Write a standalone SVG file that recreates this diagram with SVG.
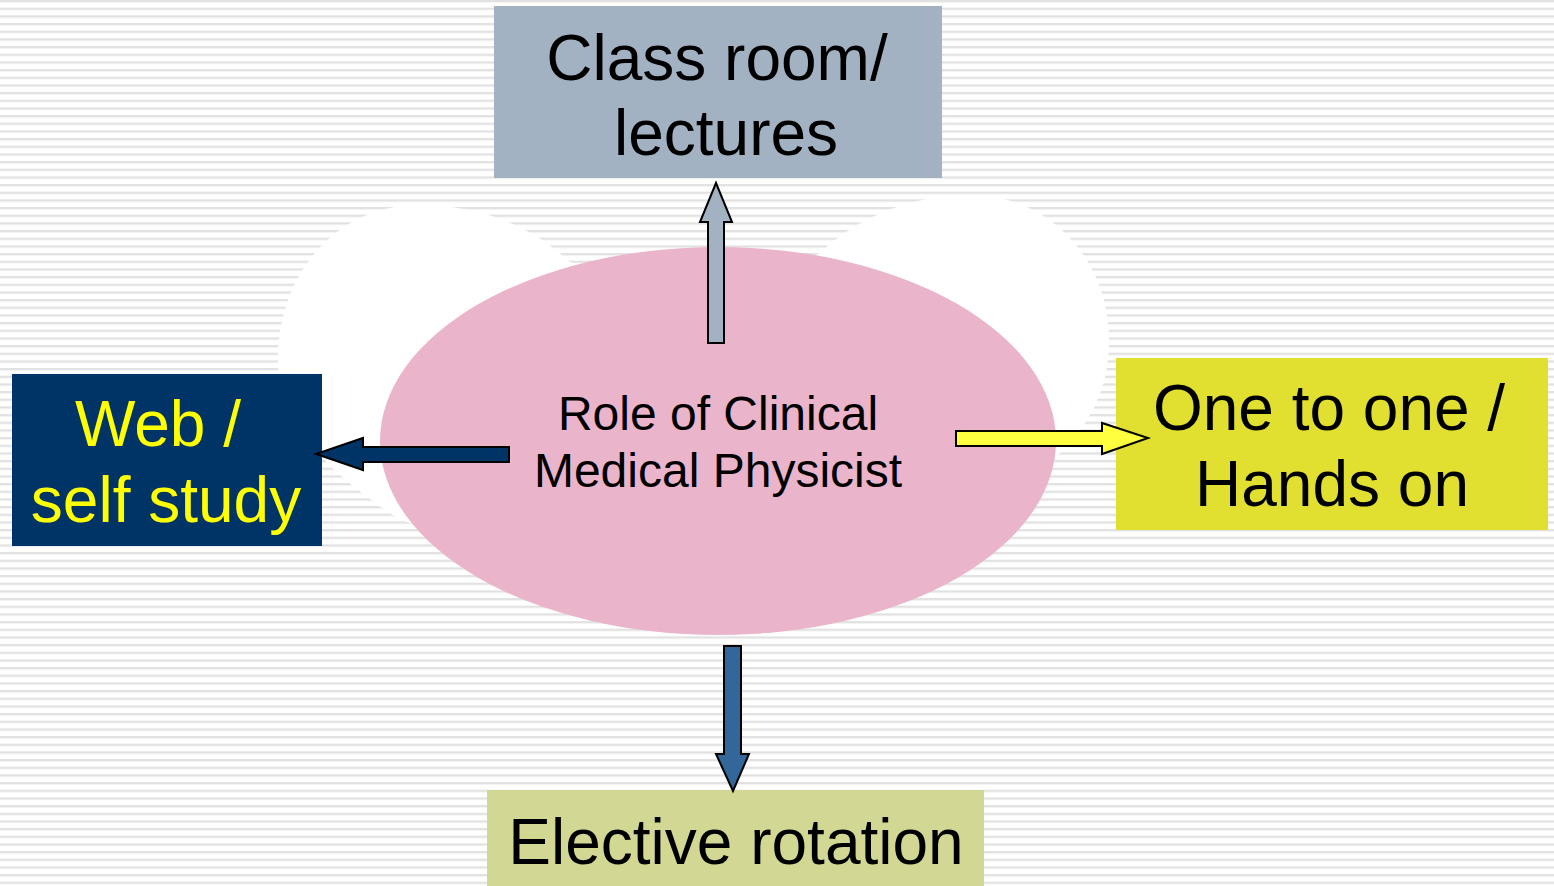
<svg xmlns="http://www.w3.org/2000/svg" width="1554" height="886" viewBox="0 0 1554 886">
<defs>
<pattern id="stripes" x="0" y="0" width="20" height="7.667" patternUnits="userSpaceOnUse">
<rect x="0" y="0" width="20" height="7.667" fill="#ffffff"/>
<rect x="0" y="-0.4" width="20" height="2.4" fill="#e2e2e2"/>
<rect x="0" y="2" width="20" height="0.8" fill="#f0f0f0"/>
</pattern>
<style>
.lbl{font-family:"Liberation Sans",Arial,sans-serif;text-anchor:middle}
.big{font-size:64px}
.arrow{stroke:#000000;stroke-width:2;stroke-linejoin:miter}
</style>
</defs>
<rect x="0" y="0" width="1554" height="886" fill="url(#stripes)"/>
<g id="backdrop">
<path d="M 715 610 L 400 520 C 340 480 278 430 278 360 C 278 270 340 205 418 205 C 480 205 530 225 570 262 L 715 300 L 820 253 C 860 215 915 195 970 195 C 1050 195 1109 260 1109 340 C 1109 390 1090 425 1055 458 Z" fill="#ffffff"/>
</g>
<g id="center">
<ellipse cx="718" cy="441" rx="338" ry="194" fill="#eab4ca"/>
<text class="lbl" x="718" y="430" font-size="48" fill="#000000">Role of Clinical</text>
<text class="lbl" x="718" y="487" font-size="48" fill="#000000">Medical Physicist</text>
</g>
<g id="classroom">
<rect x="494" y="6" width="448" height="172" fill="#a3b2c3"/>
<text class="lbl big" x="717" y="80" fill="#000000">Class room/</text>
<text class="lbl big" x="726" y="155" fill="#000000">lectures</text>
</g>
<g id="web">
<rect x="12" y="374" width="310" height="172" fill="#003366"/>
<text class="lbl big" x="158" y="446" fill="#ffff00">Web /</text>
<text class="lbl big" x="166" y="522" fill="#ffff00">self study</text>
</g>
<g id="onetoone">
<rect x="1116" y="358" width="432" height="172" fill="#e1df2f"/>
<text class="lbl big" x="1329" y="430" fill="#000000">One to one /</text>
<text class="lbl big" x="1332" y="506" fill="#000000">Hands on</text>
</g>
<g id="elective">
<rect x="487" y="790" width="497" height="100" fill="#d2d893"/>
<text class="lbl big" x="736" y="864" fill="#000000">Elective rotation</text>
</g>
<g id="connectors">
<path class="arrow" d="M 708 343 L 708 222 L 700 222 L 716 183 L 732 222 L 724 222 L 724 343 Z" fill="#a3b2c3"/>
<path class="arrow" d="M 509 447 L 363 447 L 363 438 L 316 454 L 363 470 L 363 462 L 509 462 Z" fill="#003366"/>
<path class="arrow" d="M 956 431 L 1102 431 L 1102 423 L 1148 438 L 1102 454 L 1102 446 L 956 446 Z" fill="#ffff40"/>
<path class="arrow" d="M 724 646 L 741 646 L 741 754 L 749 754 L 733 791 L 716 754 L 724 754 Z" fill="#336699"/>
</g>
</svg>
